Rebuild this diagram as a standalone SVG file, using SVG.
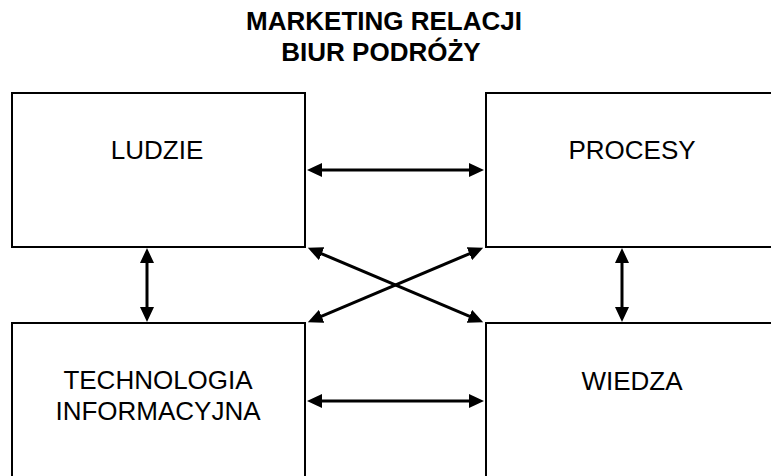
<svg xmlns="http://www.w3.org/2000/svg" width="771" height="476" viewBox="0 0 771 476">
  <style>
    .box { fill: #ffffff; stroke: #000000; stroke-width: 2; }
    .lbl { font-family: "Liberation Sans", Arial, sans-serif; font-size: 26px; fill: #000000; text-anchor: middle; }
    .title { font-family: "Liberation Sans", Arial, sans-serif; font-size: 26px; font-weight: bold; fill: #000000; text-anchor: middle; }
    .conn { stroke: #000000; stroke-width: 3; fill: none; marker-start: url(#ah); marker-end: url(#ah); }
  </style>
  <defs>
    <marker id="ah" viewBox="0 -7 15 14" refX="1" refY="0" markerWidth="15" markerHeight="14" markerUnits="userSpaceOnUse" orient="auto-start-reverse">
      <path d="M0,-7 L15,0 L0,7 Z" fill="#000000"/>
    </marker>
  </defs>
  <rect width="771" height="476" fill="#ffffff"/>
  <g id="title">
    <text class="title" x="384" y="30">MARKETING RELACJI</text>
    <text class="title" x="381" y="61">BIUR PODRÓŻY</text>
  </g>
  <g id="ludzie">
    <rect class="box" x="12" y="93" width="293" height="154"/>
    <text class="lbl" x="157" y="159">LUDZIE</text>
  </g>
  <g id="procesy">
    <rect class="box" x="486" y="93" width="300" height="154"/>
    <text class="lbl" x="632" y="159">PROCESY</text>
  </g>
  <g id="technologia">
    <rect class="box" x="12" y="323" width="293" height="170"/>
    <text class="lbl" x="158" y="389">TECHNOLOGIA</text>
    <text class="lbl" x="158" y="420">INFORMACYJNA</text>
  </g>
  <g id="wiedza">
    <rect class="box" x="486" y="323" width="300" height="170"/>
    <text class="lbl" x="632" y="390">WIEDZA</text>
  </g>
  <g id="connectors">
    <line class="conn" x1="321" y1="170" x2="470" y2="170"/>
    <line class="conn" x1="321" y1="401" x2="470" y2="401"/>
    <line class="conn" x1="147" y1="262" x2="147" y2="308"/>
    <line class="conn" x1="622" y1="262" x2="622" y2="308"/>
    <line class="conn" x1="320.7" y1="253.3" x2="470.3" y2="316.7"/>
    <line class="conn" x1="470.3" y1="253.3" x2="320.7" y2="316.7"/>
  </g>
</svg>
